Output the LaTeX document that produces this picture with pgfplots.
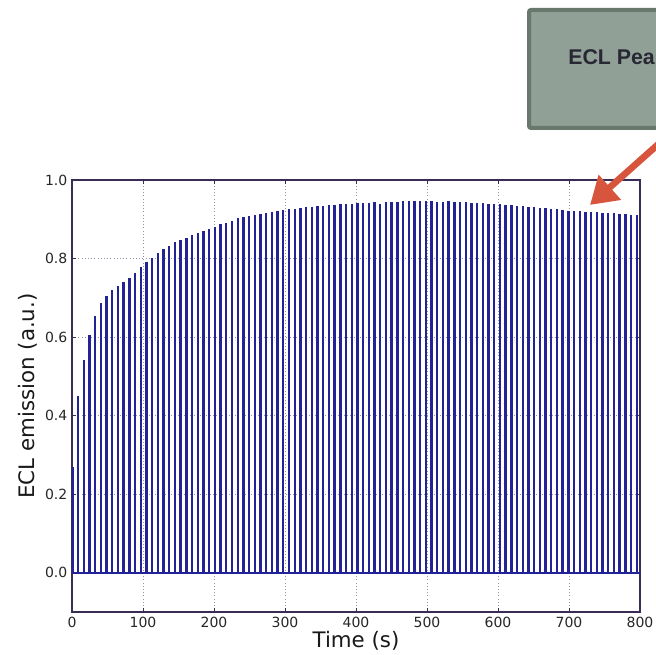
\documentclass[border=0pt]{standalone}
\usepackage{pgfplots}
\pgfplotsset{compat=1.18}
\usepackage{pgfplotstable}
\usepackage{fontspec}
\setmainfont{DejaVu Sans}
\newfontfamily\boxfont{Liberation Sans}
\usetikzlibrary{arrows.meta}

\definecolor{pulse}{RGB}{35,35,150}
\definecolor{framec}{RGB}{55,45,85}
\definecolor{gridc}{RGB}{150,145,170}
\definecolor{boxfill}{RGB}{145,160,150}
\definecolor{boxedge}{RGB}{105,120,108}
\definecolor{arrowred}{RGB}{215,85,60}
\definecolor{boxtext}{RGB}{40,40,52}

% ECL peak height of each potential pulse (time in s, normalised emission)
\pgfplotstableread{
t peak
0.5 0.270
8.5 0.450
16.6 0.542
24.6 0.605
32.6 0.654
40.7 0.686
48.7 0.705
56.7 0.719
64.7 0.729
72.8 0.739
80.8 0.751
88.8 0.764
96.9 0.778
104.9 0.790
112.9 0.802
121.0 0.813
129.0 0.824
137.0 0.832
145.0 0.841
153.1 0.848
161.1 0.853
169.1 0.860
177.2 0.866
185.2 0.870
193.2 0.875
201.3 0.881
209.3 0.887
217.3 0.890
225.3 0.896
233.4 0.902
241.4 0.905
249.4 0.908
257.5 0.912
265.5 0.914
273.5 0.917
281.6 0.919
289.6 0.921
297.6 0.923
305.6 0.925
313.7 0.927
321.7 0.929
329.7 0.931
337.8 0.932
345.8 0.934
353.8 0.935
361.9 0.936
369.9 0.937
377.9 0.938
385.9 0.939
394.0 0.940
402.0 0.941
410.0 0.941
418.1 0.942
426.1 0.943
434.1 0.940
442.2 0.944
450.2 0.944
458.2 0.945
466.2 0.946
474.3 0.947
482.3 0.947
490.3 0.947
498.4 0.946
506.4 0.946
514.4 0.945
522.5 0.945
530.5 0.946
538.5 0.944
546.5 0.943
554.6 0.943
562.6 0.942
570.6 0.942
578.7 0.941
586.7 0.940
594.7 0.939
602.8 0.938
610.8 0.937
618.8 0.936
626.8 0.935
634.9 0.934
642.9 0.932
650.9 0.931
659.0 0.929
667.0 0.928
675.0 0.926
683.1 0.925
691.1 0.923
699.1 0.922
707.1 0.921
715.2 0.920
723.2 0.919
731.2 0.919
739.3 0.918
747.3 0.917
755.3 0.916
763.4 0.915
771.4 0.914
779.4 0.913
787.4 0.912
795.5 0.911
}\peaks

\begin{document}
\begin{tikzpicture}
\useasboundingbox (-54pt,-32.25pt) rectangle (438pt,459pt);
\begin{axis}[
  at={(0,0)}, anchor=south west, scale only axis,
  width=426pt, height=324pt,
  xmin=0, xmax=800, ymin=-0.1, ymax=1.0,
  xtick={0,100,200,300,400,500,600,700,800},
  ytick={0,0.2,0.4,0.6,0.8,1.0},
  yticklabel style={/pgf/number format/.cd, fixed, fixed zerofill, precision=1},
  /pgf/number format/assume math mode=true,
  tick label style={font=\fontsize{10.5}{12}\selectfont, text=black!85},
  label style={font=\fontsize{16}{19}\selectfont, text=black!90},
  xlabel={Time (s)},
  ylabel={ECL emission (a.u.)},
  xlabel style={at={(axis description cs:0.5,0)}, anchor=base, yshift=-27pt},
  ylabel style={at={(axis description cs:0,0.5)}, anchor=center, yshift=33pt},
  grid=major,
  major grid style={gridc, dotted, line width=0.7pt},
  axis line style={framec, line width=0.8pt},
  tick style={framec, line width=0.6pt},
  tick align=inside, major tick length=3pt,
]
\addplot[pulse, line width=1.8pt, ycomb, mark=none] table[x=t, y=peak] {\peaks};
\addplot[pulse, line width=1.2pt, mark=none] coordinates {(0,0) (800,0)};
\end{axis}
\begin{scope}
  \clip (-54pt,-32.25pt) rectangle (438pt,459pt);
  \draw[boxedge, line width=3pt, fill=boxfill, rounded corners=1.5pt] (342.75pt,363pt) rectangle (480pt,451.5pt);
  \node[anchor=base west, inner sep=0pt, text=boxtext,
        font=\boxfont\bfseries\fontsize{16}{19}\selectfont] at (372pt,410.25pt) {ECL Peak};
  \draw[arrowred, line width=5pt, -{Triangle[length=20pt,width=24pt]}]
    (450pt,360pt) -- (388.5pt,305.25pt);
\end{scope}
\end{tikzpicture}
\end{document}
